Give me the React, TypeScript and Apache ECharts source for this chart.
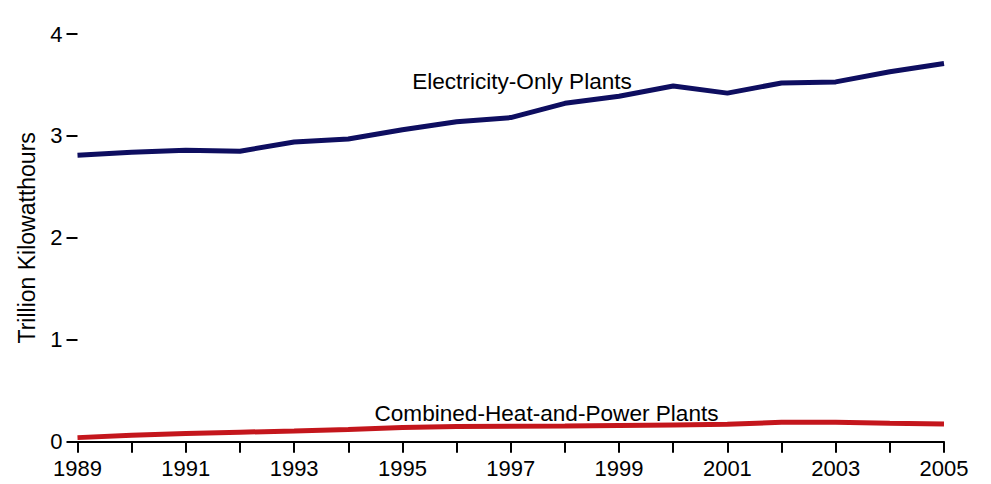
import React, { useEffect, useRef } from "react";
import * as echarts from "echarts";

const years = ["1989","1990","1991","1992","1993","1994","1995","1996","1997","1998","1999","2000","2001","2002","2003","2004","2005"];
const electricityOnly = [2.81, 2.84, 2.86, 2.85, 2.94, 2.97, 3.06, 3.14, 3.18, 3.32, 3.39, 3.49, 3.42, 3.52, 3.53, 3.63, 3.71];
const combinedHeatPower = [0.04, 0.064, 0.08, 0.093, 0.106, 0.12, 0.14, 0.15, 0.152, 0.155, 0.16, 0.165, 0.17, 0.19, 0.19, 0.18, 0.173];
const yTicks = [0, 1, 2, 3, 4];

const FONT = "'Liberation Sans', Arial, Helvetica, sans-serif";

export default function App() {
  const ref = useRef<HTMLDivElement>(null);
  useEffect(() => {
    if (!ref.current) return;
    const chart = echarts.init(ref.current, undefined, { renderer: "svg" });
    chart.setOption({
      animation: false,
      backgroundColor: "#ffffff",
      textStyle: { fontFamily: FONT },
      grid: { left: 77.5, right: 47, top: 34, bottom: 42.3, containLabel: false },
      xAxis: {
        type: "category",
        data: years,
        boundaryGap: false,
        axisLine: { show: true, lineStyle: { color: "#000", width: 2 } },
        axisTick: { show: true, interval: 0, length: 11, lineStyle: { color: "#000", width: 2 } },
        axisLabel: { interval: 1, color: "#000", fontSize: 22, fontFamily: FONT, margin: 16 },
        splitLine: { show: false },
      },
      yAxis: {
        type: "value",
        min: yTicks[0],
        max: yTicks[yTicks.length - 1],
        interval: 1,
        name: "Trillion Kilowatthours",
        nameLocation: "middle",
        nameGap: 39,
        nameRotate: 90,
        nameTextStyle: { color: "#000", fontSize: 23, fontFamily: FONT },
        axisLine: { show: false },
        axisTick: { show: true, length: 11, lineStyle: { color: "#000", width: 2 } },
        axisLabel: { color: "#000", fontSize: 22, fontFamily: FONT, margin: 15 },
        splitLine: { show: false },
      },
      series: [
        {
          name: "Electricity-Only Plants",
          type: "line",
          data: electricityOnly,
          symbol: "none",
          lineStyle: { color: "#0e0e60", width: 5 },
          itemStyle: { color: "#0e0e60" },
        },
        {
          name: "Combined-Heat-and-Power Plants",
          type: "line",
          data: combinedHeatPower,
          symbol: "none",
          lineStyle: { color: "#c4161c", width: 5 },
          itemStyle: { color: "#c4161c" },
        },
      ],
      graphic: [
        {
          type: "text",
          x: 522,
          y: 81,
          style: { text: "Electricity-Only Plants", fill: "#000", font: `22.6px ${FONT}`, textAlign: "center", textVerticalAlign: "middle" },
        },
        {
          type: "text",
          x: 546.5,
          y: 413,
          style: { text: "Combined-Heat-and-Power Plants", fill: "#000", font: `22.6px ${FONT}`, textAlign: "center", textVerticalAlign: "middle" },
        },
      ],
    });
    return () => chart.dispose();
  }, []);
  return <div ref={ref} style={{ position: "absolute", left: 0, top: 0, width: 991, height: 484 }} />;
}
